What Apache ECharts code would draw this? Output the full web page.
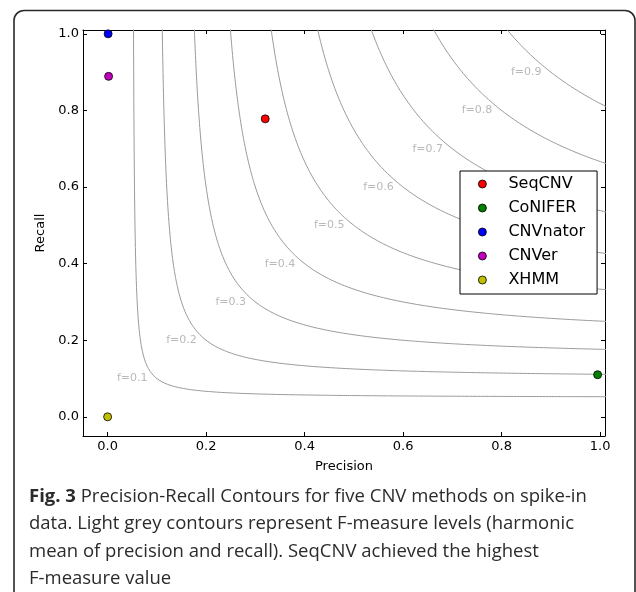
<!DOCTYPE html>
<html>
<head>
<meta charset="utf-8">
<script src="https://cdn.jsdelivr.net/npm/echarts@6/dist/echarts.min.js"></script>
<style>
  html, body { margin: 0; padding: 0; background: #fff; }
  #chart { width: 636px; height: 592px; }
</style>
</head>
<body>
<div id="chart"></div>
<script>
// ---- Data ----
const methods = ['SeqCNV', 'CoNIFER', 'CNVnator', 'CNVer', 'XHMM'];
const precision = [0.32, 0.995, 0.001, 0.002, 0.0];
const recall = [0.778, 0.11, 1.0, 0.889, 0.0];
const methodColors = ['#ff0000', '#008000', '#0000ff', '#bf00bf', '#bfbf00'];
const fLevels = [0.1, 0.2, 0.3, 0.4, 0.5, 0.6, 0.7, 0.8, 0.9];
const tickValues = [0, 0.2, 0.4, 0.6, 0.8, 1.0];
const captionLines = [
  'Precision-Recall Contours for five CNV methods on spike-in',
  'data. Light grey contours represent F-measure levels (harmonic',
  'mean of precision and recall). SeqCNV achieved the highest',
  'F-measure value'
];

// F-measure contour: recall as a function of precision for a given level f
function contour(f) {
  const pts = [];
  const rTop = 1.05;
  const pStart = f * rTop / (2 * rTop - f);
  const n = 300;
  for (let i = 0; i <= n; i++) {
    const t = i / n;
    const p = pStart + (1.02 - pStart) * Math.pow(t, 2);
    const r = f * p / (2 * p - f);
    pts.push([p, r]);
  }
  return pts;
}

const axisFont = { fontFamily: 'DejaVu Sans', fontSize: 13, color: '#000' };
const capFont = 'Open Sans, Noto Sans, DejaVu Sans';

const series = [];
fLevels.forEach(function (f) {
  series.push({
    type: 'line', name: 'f' + f, data: contour(f), showSymbol: false, symbol: 'none',
    clip: true, silent: true, z: 1,
    lineStyle: { color: '#9a9a9a', width: 1 }
  });
});
series.push({
  type: 'scatter', name: 'labels', silent: true, z: 2, symbolSize: 0,
  data: fLevels.map(function (f) { return { value: [f - 0.05, f], name: 'f=' + f.toFixed(1) }; }),
  label: {
    show: true, position: 'inside', formatter: '{b}',
    fontFamily: 'DejaVu Sans', fontSize: 11, color: '#a8a8a8'
  }
});
methods.forEach(function (m, i) {
  series.push({
    type: 'scatter', name: m, data: [[precision[i], recall[i]]], symbolSize: 8, z: 5,
    itemStyle: { color: methodColors[i], borderColor: '#000', borderWidth: 0.8, opacity: 1 }
  });
});

function mkAxis(pos, isX, primary) {
  return {
    type: 'value', position: pos, min: -0.05, max: 1.01,
    name: primary ? (isX ? 'Precision' : 'Recall') : '',
    nameLocation: 'middle', nameGap: isX ? 24 : 31,
    nameTextStyle: Object.assign({}, axisFont),
    axisLine: { show: true, onZero: false, lineStyle: { color: '#000', width: 1 } },
    axisTick: { show: true, inside: true, length: 4, customValues: tickValues, lineStyle: { color: '#000' } },
    axisLabel: primary ? Object.assign({ show: true, margin: 4, customValues: tickValues,
      formatter: function (v) { return v.toFixed(1); } }, axisFont) : { show: false },
    splitLine: { show: false }
  };
}

const capTops = [487, 514.5, 542, 569.5];
const graphics = [
  { type: 'rect', shape: { x: 14, y: 10.5, width: 621, height: 640, r: 10 },
    style: { fill: 'none', stroke: '#2a2a2a', lineWidth: 1.6 }, z: -1 }
];
captionLines.forEach(function (line, i) {
  graphics.push({
    type: 'text', left: 29, top: capTops[i],
    style: {
      text: i === 0 ? '{b|Fig. 3} ' + line : line,
      fontFamily: capFont, fontSize: 18.5, fill: '#2b2b2b',
      rich: { b: { fontWeight: 'bold', fontFamily: capFont, fontSize: 18.5, fill: '#2b2b2b' } }
    }
  });
});

const chart = echarts.init(document.getElementById('chart'), null, { renderer: 'canvas' });
chart.setOption({
  animation: false,
  backgroundColor: '#fff',
  grid: { left: 83, top: 30, right: 31, bottom: 156, containLabel: false },
  xAxis: [mkAxis('bottom', true, true), mkAxis('top', true, false)],
  yAxis: [mkAxis('left', false, true), mkAxis('right', false, false)],
  legend: {
    data: methods, orient: 'vertical', left: 460, top: 171,
    icon: 'circle', itemWidth: 8, itemHeight: 8, itemGap: 8,
    padding: [5, 12, 6, 18],
    backgroundColor: '#fff', borderColor: '#000', borderWidth: 1, borderRadius: 0,
    itemStyle: { borderColor: '#000', borderWidth: 0.8 },
    textStyle: { fontFamily: 'DejaVu Sans', fontSize: 16, color: '#000', lineHeight: 16, padding: [0, 0, 0, 17] }
  },
  series: series,
  graphic: graphics
});
</script>
</body>
</html>
